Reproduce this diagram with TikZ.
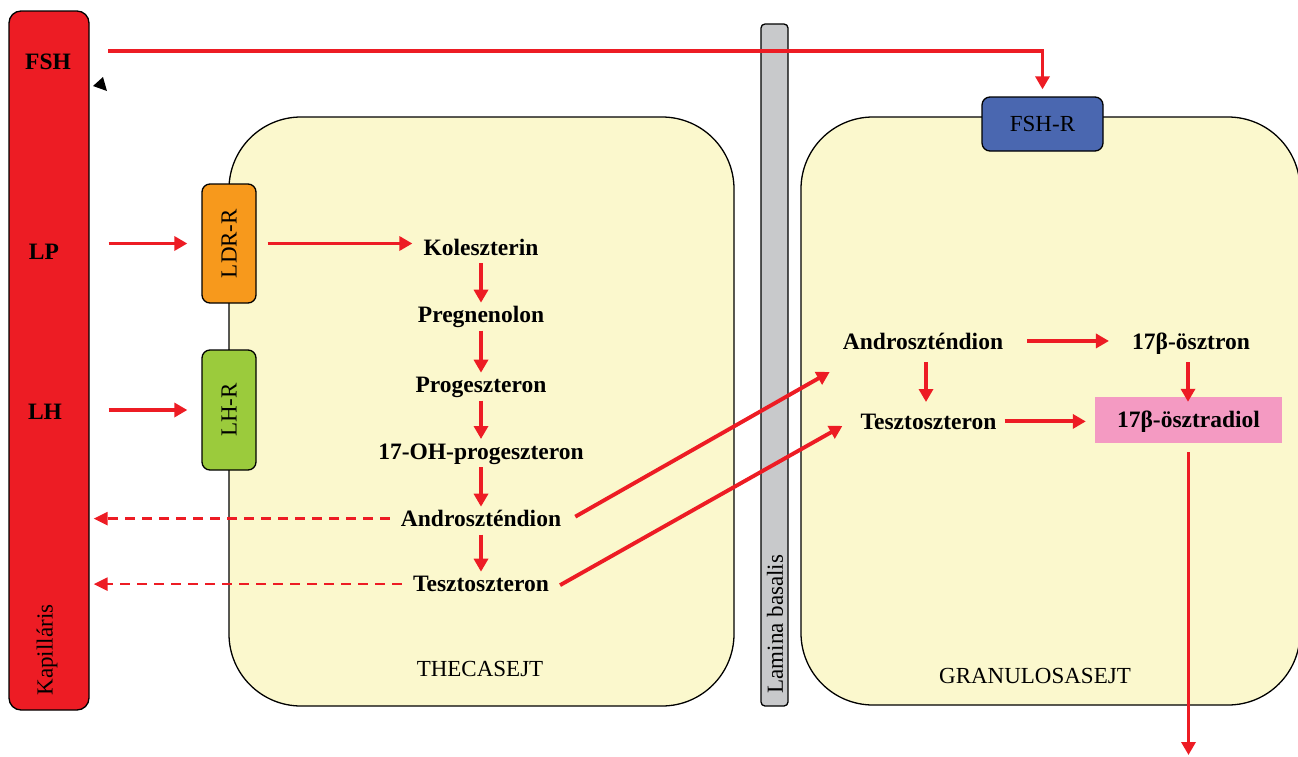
\documentclass[tikz,border=0pt]{standalone}
\usepackage{fontspec}
\setmainfont{Liberation Serif}
\usetikzlibrary{arrows.meta,calc}
\definecolor{capred}{HTML}{ED1C24}
\definecolor{cellyel}{HTML}{FBF8CD}
\definecolor{lamgray}{HTML}{C8C9CB}
\definecolor{recblue}{HTML}{4A67B0}
\definecolor{recorange}{HTML}{F7991C}
\definecolor{recgreen}{HTML}{9BCB3C}
\definecolor{pinkbox}{HTML}{F49AC2}
\begin{document}
\begin{tikzpicture}[x=1pt,y=-1pt,
  cell/.style={draw=black,line width=1.3pt,fill=cellyel,rounded corners=72pt},
  box/.style={draw=black,line width=1.3pt,rounded corners=8pt,inner sep=0pt},
  bl/.style={font=\fontsize{23.5}{27}\selectfont\bfseries,inner sep=0pt,anchor=base},
  nl/.style={font=\fontsize{23}{27}\selectfont,inner sep=0pt},
  ra/.style={draw=capred,line width=3.9pt,-{Triangle[length=13pt,width=14pt]}},
  da/.style={draw=capred,line width=2.6pt,dash pattern=on 10pt off 7pt,-{Triangle[length=14pt,width=13pt]}}
]
\useasboundingbox (0,0) rectangle (1298,756);
% cells
\draw[cell] (229,117) rectangle (734,706);
\draw[cell] (801,117) rectangle (1300,705);
% lamina basalis
\node[box,fill=lamgray,rounded corners=4pt,minimum width=27pt,minimum height=682pt] (lam) at (774.5,365) {};
\node[nl,rotate=90] (lamt) at (775,624) {Lamina basalis};
% capillary
\node[box,fill=capred,rounded corners=12pt,minimum width=80pt,minimum height=699pt] (cap) at (49,360.5) {};
\node[bl] (fsh) at (48,69) {FSH};
\node[bl] (lp) at (44,259) {LP};
\node[bl] (lh) at (45,419) {LH};
\node[nl,rotate=90] (kap) at (47,650) {Kapilláris};
\fill[black] (93,86) -- (103,77) -- (107,91) -- cycle;
% receptors
\node[box,fill=recorange,minimum width=54pt,minimum height=119pt] (ldr) at (229,243.5) {};
\node[nl,rotate=90] (ldrt) at (ldr.center) {LDR-R};
\node[box,fill=recgreen,minimum width=54pt,minimum height=120pt] (lhr) at (229,410) {};
\node[nl,rotate=90] (lhrt) at (lhr.center) {LH-R};
\node[box,fill=recblue,minimum width=121pt,minimum height=54pt,text height=15pt,text depth=0pt,font=\fontsize{23}{27}\selectfont] (fshr) at (1042.5,124) {FSH-R};
% theca texts
\node[bl] (kol) at (481,255) {Koleszterin};
\node[bl] (preg) at (481,322.7) {Pregnenolon};
\node[bl] (prog) at (481,392.7) {Progeszteron};
\node[bl] (oh) at (481,459) {17-OH-progeszteron};
\node[bl] (andl) at (481,526.7) {Androszténdion};
\node[bl] (tesl) at (481,591.7) {Tesztoszteron};
\node[nl,anchor=base] (theca) at (480,676) {THECASEJT};
% granulosa texts
\node[bl] (andr) at (923,349) {Androszténdion};
\node[bl] (osz) at (1191,349) {17β-ösztron};
\node[bl] (tesr) at (928.5,429) {Tesztoszteron};
\node[fill=pinkbox,minimum width=187pt,minimum height=46pt,inner sep=0pt,text height=15pt,text depth=0pt,font=\fontsize{23.5}{27}\selectfont\bfseries] (pink) at (1188.5,420) {17β-ösztradiol};
\node[nl,anchor=base] (gran) at (1035,683) {GRANULOSASEJT};
\coordinate (fshs) at (108,51);
\coordinate (out) at (1188.5,755);
% connectors
\draw[ra,shorten >=7pt] (fshs) -| (fshr.north);
\draw[ra,shorten <=19pt,shorten >=14pt] (cap.east |- ldr.west) -- (ldr.west);
\draw[ra,shorten <=19pt,shorten >=14pt] (cap.east |- lhr.west) -- (lhr.west);
\draw[ra,shorten <=11pt,shorten >=11pt] (ldr.east) -- (kol.west |- ldr.east);
\draw[ra] ($(kol.base)+(0,8)$) -- ($(preg.base)+(0,-20)$);
\draw[ra] ($(preg.base)+(0,8)$) -- ($(prog.base)+(0,-20)$);
\draw[ra] ($(prog.base)+(0,8)$) -- ($(oh.base)+(0,-20)$);
\draw[ra] ($(oh.base)+(0,8)$) -- ($(andl.base)+(0,-20)$);
\draw[ra] ($(andl.base)+(0,8)$) -- ($(tesl.base)+(0,-20)$);
\draw[da,shorten <=11pt,shorten >=4pt] (andl.west) -- (cap.east |- andl.west);
\draw[da,shorten <=11pt,shorten >=4pt] (tesl.west) -- (cap.east |- tesl.west);
\draw[ra] ($(andl.east)+(14,-2)$) -- ($(andr.west)+(-13,31)$);
\draw[ra] ($(tesl.east)+(11,1)$) -- ($(tesr.west)+(-18,4.5)$);
\draw[ra,shorten <=24pt,shorten >=23pt] (andr.east) -- (osz.west |- andr.east);
\draw[ra] ($(andr.base)+(3,13)$) -- ($(andr.base |- tesr.base)+(3,-27)$);
\draw[ra] ($(osz.base)+(-3,13)$) -- ($(osz.base |- pink.north)+(-3,5)$);
\draw[ra,shorten <=8pt,shorten >=9pt] (tesr.east) -- (pink.west |- tesr.east);
\draw[ra,shorten <=9pt] (pink.south) -- (out);
\end{tikzpicture}
\end{document}
